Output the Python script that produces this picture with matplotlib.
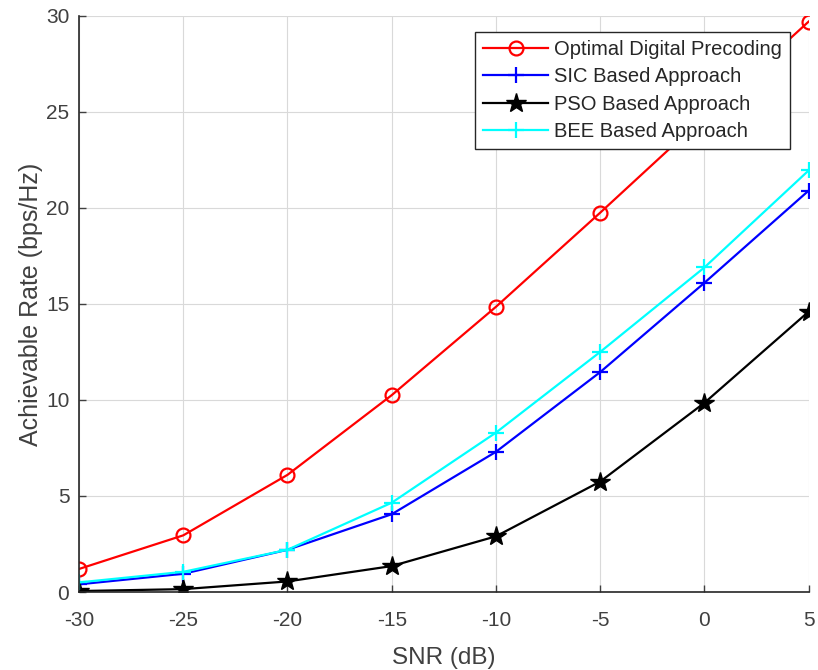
import matplotlib.pyplot as plt
import numpy as np

plt.rcParams['font.family'] = ['Liberation Sans', 'DejaVu Sans']
plt.rcParams['axes.unicode_minus'] = False

# SNR en dB y tasas alcanzables (bps/Hz)
snr = [-30, -25, -20, -15, -10, -5, 0, 5]
optimal = [1.2, 2.95, 6.1, 10.25, 14.85, 19.75, 24.75, 29.7]
sic = [0.4, 0.95, 2.2, 4.05, 7.3, 11.45, 16.1, 20.9]
pso = [0.05, 0.15, 0.55, 1.35, 2.9, 5.75, 9.85, 14.6]
bee = [0.5, 1.05, 2.2, 4.65, 8.3, 12.5, 16.9, 21.95]
labels = ['Optimal Digital Precoding', 'SIC Based Approach',
          'PSO Based Approach', 'BEE Based Approach']

fig = plt.figure(figsize=(8.18, 6.70), dpi=100)
ax = fig.add_axes([0.0966, 0.1164, 0.892, 0.86])

ax.plot(snr, optimal, color='#ff0000', lw=1.6, marker='o', ms=10,
        mfc='none', mec='#ff0000', mew=1.6, label=labels[0])
ax.plot(snr, sic, color='#0000ff', lw=1.6, marker='+', ms=11,
        mew=1.6, label=labels[1])
ax.plot(snr, pso, color='black', lw=1.6, marker='*', ms=15,
        label=labels[2])
ax.plot(snr, bee, color='#00ffff', lw=1.6, marker='+', ms=11,
        mew=1.6, label=labels[3])

ax.set_xlim(-30, 5)
ax.set_ylim(0, 30)
ax.set_xticks(snr)
ax.set_yticks(np.arange(0, 31, 5))
ax.set_xlabel('SNR (dB)', fontsize=17.5, color='#404040', labelpad=12)
ax.set_ylabel('Achievable Rate (bps/Hz)', fontsize=18, color='#404040', labelpad=2)
ax.tick_params(direction='in', labelsize=15, colors='#404040', length=5,
               width=1)
ax.tick_params(axis='x', pad=14)
ax.tick_params(axis='y', pad=7)
ax.grid(True, color='#d9d9d9', lw=0.8)
ax.set_axisbelow(True)
for s in ['top', 'right']:
    ax.spines[s].set_visible(False)
for s in ['left', 'bottom']:
    ax.spines[s].set_color('#262626')
    ax.spines[s].set_linewidth(1.2)

leg = ax.legend(loc='upper right', bbox_to_anchor=(0.974, 0.972), fontsize=14.5,
                handlelength=3.2, labelspacing=0.42, fancybox=False,
                framealpha=1, edgecolor='#262626', borderpad=0.4,
                handletextpad=0.3, borderaxespad=0)
leg.get_frame().set_linewidth(1.0)
for t in leg.get_texts():
    t.set_color('#262626')

fig.savefig('out.png', dpi=100)
